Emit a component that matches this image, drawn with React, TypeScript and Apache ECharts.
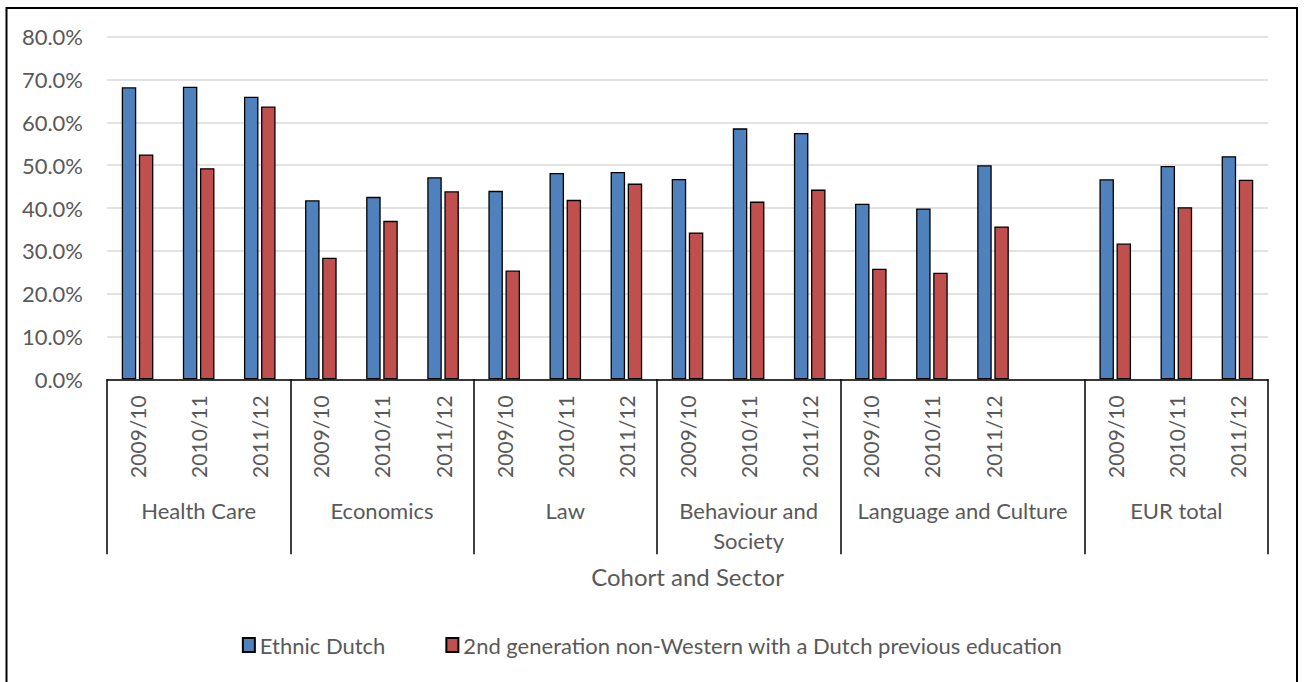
import React, { useEffect, useRef } from "react";
import * as echarts from "echarts";

// Sectors on the outer axis level, and how many cohort slots each one spans
const sectors = ["Health Care", "Economics", "Law", "Behaviour and\nSociety", "Language and Culture", "EUR total"];
const sectorSlots = [3, 3, 3, 3, 4, 3];
const cohorts = ["2009/10", "2010/11", "2011/12"];

// Share of students (%) per sector and cohort; null marks the empty slot
const ethnicDutch = [
  68.2, 68.3, 66.0,
  41.8, 42.6, 47.2,
  44.0, 48.2, 48.4,
  46.8, 58.6, 57.5,
  41.0, 39.9, 50.0, null,
  46.7, 49.8, 52.1,
];
const secondGeneration = [
  52.5, 49.3, 63.7,
  28.4, 37.0, 43.9,
  25.4, 41.9, 45.7,
  34.3, 41.5, 44.3,
  25.8, 24.9, 35.7, null,
  31.7, 40.2, 46.6,
];

const yTicks = { min: 0, max: 80, interval: 10 };

const TEXT = "#595959";
const FONT = "Lato";

export default function App() {
  const ref = useRef<HTMLDivElement>(null);

  useEffect(() => {
    if (!ref.current) return;
    const chart = echarts.init(ref.current, undefined, { renderer: "svg" });

    // Inner category labels: one slot per cohort, blank where a sector has a spare slot
    const categories: string[] = [];
    const boundaries: number[] = [];
    sectorSlots.forEach((n) => {
      boundaries.push(categories.length);
      for (let i = 0; i < n; i++) categories.push(cohorts[i] ?? "");
    });

    // Sector labels sit at the middle of their span, measured in half-slots
    const sectorAt: Record<number, string> = {};
    let start = 0;
    sectorSlots.forEach((n, i) => {
      sectorAt[start * 2 + n] = sectors[i];
      start += n;
    });

    chart.setOption({
      animation: false,
      backgroundColor: "#ffffff",
      textStyle: { fontFamily: FONT, color: TEXT },
      graphic: [
        {
          type: "rect",
          z: -1,
          shape: { x: 6.5, y: 8, width: 1290.5, height: 700 },
          style: { fill: "none", stroke: "#000", lineWidth: 2 },
        },
      ],
      grid: { left: 107, right: 36, top: 36.7, bottom: 302.7, containLabel: false },
      legend: {
        bottom: 21,
        left: "center",
        icon: "rect",
        itemWidth: 12,
        itemHeight: 14,
        itemGap: 60,
        textStyle: { fontFamily: FONT, fontSize: 22, color: TEXT },
        data: ["Ethnic Dutch", "2nd generation non-Western with a Dutch previous education"],
      },
      xAxis: [
        {
          type: "category",
          data: categories,
          name: "Cohort and Sector",
          nameLocation: "middle",
          nameGap: 185,
          nameTextStyle: { fontFamily: FONT, fontSize: 24, color: TEXT },
          axisLine: { lineStyle: { color: "#000", width: 1.5 } },
          axisTick: {
            show: true,
            length: 175,
            interval: (index: number) => boundaries.includes(index),
            lineStyle: { color: "#000", width: 1.5 },
          },
          axisLabel: {
            interval: 0,
            rotate: 90,
            margin: 16,
            fontFamily: FONT,
            fontSize: 21,
            color: TEXT,
          },
        },
        {
          type: "value",
          min: 0,
          max: categories.length * 2,
          interval: 1,
          position: "bottom",
          axisLine: { show: false },
          axisTick: { show: false },
          splitLine: { show: false },
          axisLabel: {
            margin: 116,
            fontFamily: FONT,
            fontSize: 22,
            lineHeight: 30,
            color: TEXT,
            formatter: (v: number) => sectorAt[v] ?? "",
          },
        },
      ],
      yAxis: {
        type: "value",
        min: yTicks.min,
        max: yTicks.max,
        interval: yTicks.interval,
        axisLine: { show: false },
        axisTick: { show: false },
        splitLine: { lineStyle: { color: "#D9D9D9", width: 1.5 } },
        axisLabel: {
          margin: 24,
          fontFamily: FONT,
          fontSize: 22,
          color: TEXT,
          formatter: (v: number) => v.toFixed(1) + "%",
        },
      },
      series: [
        {
          name: "Ethnic Dutch",
          type: "bar",
          data: ethnicDutch,
          barWidth: 14.5,
          barGap: "18%",
          itemStyle: { color: "#4F81BD", borderColor: "#000", borderWidth: 1.3 },
        },
        {
          name: "2nd generation non-Western with a Dutch previous education",
          type: "bar",
          data: secondGeneration,
          barWidth: 14.5,
          barGap: "18%",
          itemStyle: { color: "#C0504D", borderColor: "#000", borderWidth: 1.3 },
        },
      ],
    });

    return () => chart.dispose();
  }, []);

  return (
    <div
      ref={ref}
      style={{ position: "fixed", left: 0, top: 0, width: 1304, height: 682, background: "#fff" }}
    />
  );
}
